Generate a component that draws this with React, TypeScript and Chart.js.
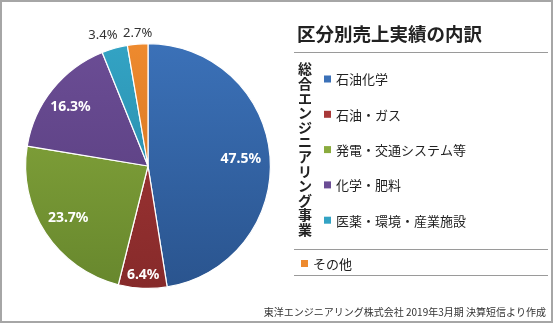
import React, { useEffect, useRef } from 'react';
import { Chart, registerables } from 'chart.js';

Chart.register(...registerables);

const categories = ['石油化学', '石油・ガス', '発電・交通システム等', '化学・肥料', '医薬・環境・産業施設', 'その他'];
const shares = [47.5, 6.4, 23.7, 16.3, 3.4, 2.7];
const groupTitle = '総合エンジニアリング事業';
const inGroup = [true, true, true, true, true, false];
const chartTitle = '区分別売上実績の内訳';
const sourceNote = '東洋エンジニアリング株式会社 2019年3月期 決算短信より作成';

const lightColors = ['#3b71b8', '#a83838', '#8aab3e', '#6b4d95', '#33a3c4', '#ee8a2e'];
const darkColors = ['#2a548e', '#862a2a', '#67872d', '#553b7a', '#24839f', '#c96c1e'];
// label placement (style only): radius factor, outside flag, small horizontal nudge
const labelRadius = [0.76, 0.89, 0.78, 0.77, 1.11, 1.09];
const labelOutside = [false, false, false, false, true, true];
const labelNudgeX = [0, 0, 0, -4, -8, 1];

const CJK = '"Noto Sans CJK JP", "Noto Sans", sans-serif';

const bgPlugin = {
  id: 'bg',
  beforeDraw(chart: any) {
    const c = chart.ctx;
    c.save();
    c.fillStyle = '#ffffff';
    c.fillRect(0, 0, chart.width, chart.height);
    c.restore();
  },
};

const labelPlugin = {
  id: 'sliceLabels',
  afterDatasetsDraw(chart: any) {
    const c = chart.ctx;
    const meta = chart.getDatasetMeta(0);
    c.save();
    c.textAlign = 'center';
    c.textBaseline = 'middle';
    meta.data.forEach((arc: any, i: number) => {
      const mid = (arc.startAngle + arc.endAngle) / 2;
      const r = arc.outerRadius * labelRadius[i];
      const x = arc.x + Math.cos(mid) * r + labelNudgeX[i];
      const y = arc.y + Math.sin(mid) * r;
      if (labelOutside[i]) {
        c.font = '13px "Noto Sans", sans-serif';
        c.fillStyle = '#333333';
      } else {
        c.font = 'bold 14px "Noto Sans", sans-serif';
        c.fillStyle = '#ffffff';
      }
      c.fillText(shares[i].toFixed(1) + '%', x, y);
    });
    c.restore();
  },
};

const panelPlugin = {
  id: 'panel',
  afterDraw(chart: any) {
    const c = chart.ctx;
    const colors = lightColors;
    c.save();
    // title
    c.fillStyle = '#222222';
    c.font = `bold 18.5px ${CJK}`;
    c.textAlign = 'left';
    c.textBaseline = 'middle';
    c.fillText(chartTitle, 297, 34);
    // divider lines
    c.strokeStyle = '#9a9a9a';
    c.lineWidth = 1;
    [52.5, 249.5, 275.5].forEach((y) => {
      c.beginPath();
      c.moveTo(294, y);
      c.lineTo(548, y);
      c.stroke();
    });
    // vertical group title
    c.font = `bold 14px ${CJK}`;
    c.textAlign = 'center';
    c.fillStyle = '#222222';
    const chars = Array.from(groupTitle);
    chars.forEach((ch, k) => {
      c.fillText(ch, 305, 69 + k * 14.6);
    });
    // legend items
    c.font = `13px ${CJK}`;
    c.textAlign = 'left';
    let g = 0;
    categories.forEach((label, i) => {
      let sx: number, tx: number, y: number;
      if (inGroup[i]) {
        y = 79 + g * 35.3;
        sx = 324;
        tx = 336;
        g++;
      } else {
        y = 263.5;
        sx = 301;
        tx = 313;
      }
      c.fillStyle = colors[i];
      c.fillRect(sx, y - 3.5, 7, 7);
      c.fillStyle = '#222222';
      c.fillText(label, tx, y + 0.5);
    });
    // source note
    c.font = `10px ${CJK}`;
    c.textAlign = 'right';
    c.fillStyle = '#333333';
    c.fillText(sourceNote, 546, 312);
    // outer frame
    c.strokeStyle = '#a6a6a6';
    c.lineWidth = 2;
    c.strokeRect(1, 1, 551, 321);
    c.restore();
  },
};

export default function App() {
  const ref = useRef<HTMLCanvasElement | null>(null);
  useEffect(() => {
    document.body.style.margin = '0';
    if (!ref.current) return;
    const chart = new Chart(ref.current, {
      type: 'pie',
      data: {
        labels: categories,
        datasets: [
          {
            data: shares,
            backgroundColor: (ctx: any) => {
              const i = ctx.dataIndex;
              const area = ctx.chart.chartArea;
              if (!area) return lightColors[i];
              const grad = ctx.chart.ctx.createLinearGradient(0, area.top, 0, area.bottom);
              grad.addColorStop(0, lightColors[i]);
              grad.addColorStop(1, darkColors[i]);
              return grad;
            },
            borderColor: '#ffffff',
            borderWidth: 1.2,
          },
        ],
      },
      options: {
        animation: false,
        responsive: true,
        maintainAspectRatio: false,
        layout: { padding: { left: 25, right: 283, top: 43, bottom: 36 } },
        plugins: {
          legend: { display: false },
          tooltip: { enabled: false },
          title: { display: false },
        },
      },
      plugins: [bgPlugin, labelPlugin, panelPlugin],
    });
    return () => chart.destroy();
  }, []);
  return (
    <div style={{ position: 'relative', width: 554, height: 325 }}>
      <canvas ref={ref} />
    </div>
  );
}
